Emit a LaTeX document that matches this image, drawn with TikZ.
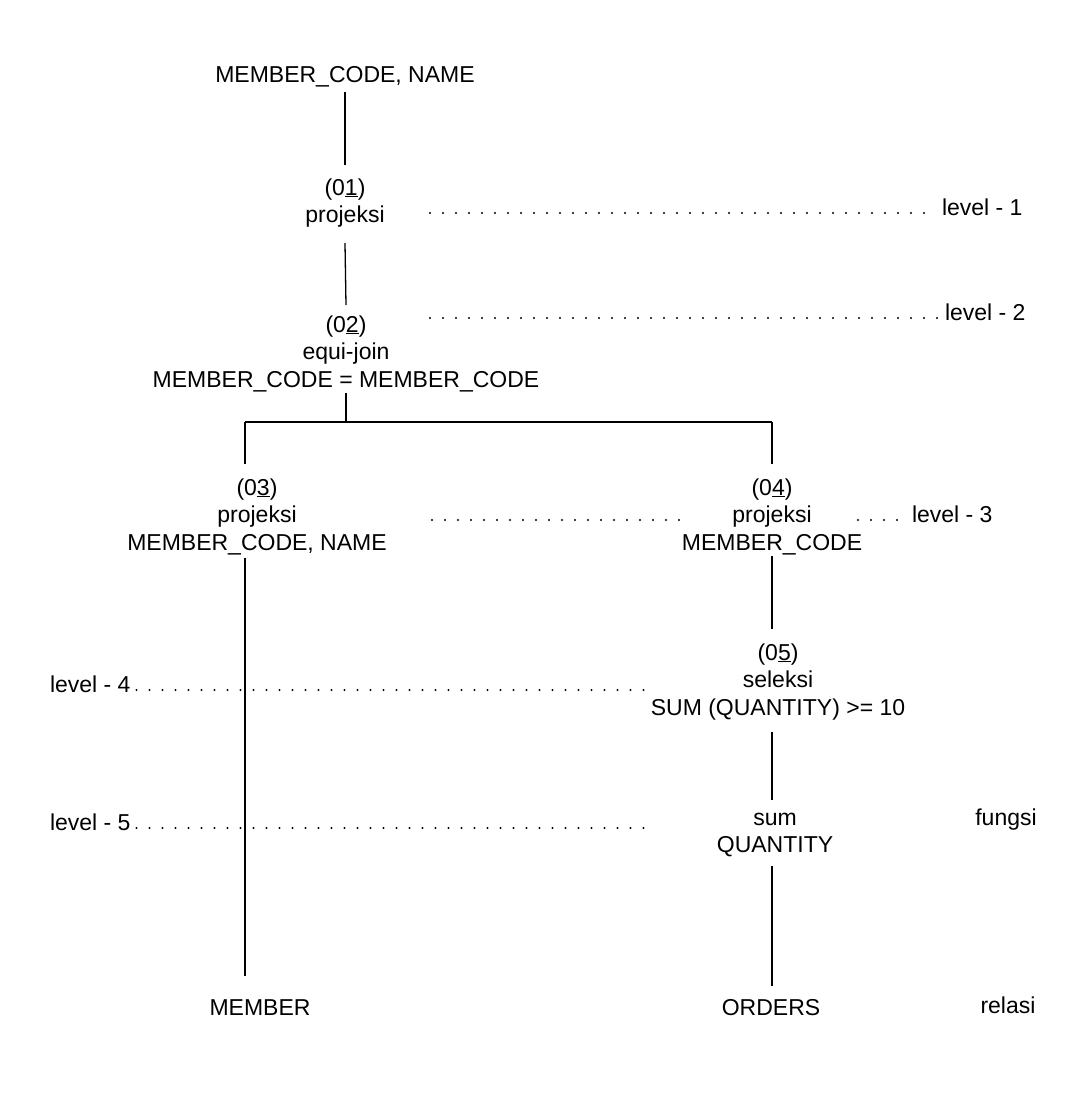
\documentclass[tikz,border=0pt]{standalone}
\usepackage{fontspec}
\setmainfont{Liberation Sans}
\newcommand\udl[1]{\underline{#1}}
\begin{document}
\begin{tikzpicture}[x=1pt,y=-1pt,
  every node/.style={inner sep=0pt, outer sep=0pt, font=\fontsize{23}{27.5}\selectfont},
  blk/.style={align=center, anchor=base},
  lab/.style={anchor=base},
  labw/.style={anchor=base west},
  ln/.style={line width=1.3pt},
  dots/.style={line width=2.2pt, line cap=round, dash pattern=on 0pt off 13pt}]
\useasboundingbox (0,0) rectangle (1088,1096);

% tree nodes (anchor = baseline of the last line)
\node[blk] (top) at (345,82) {MEMBER\_CODE, NAME};
\node[blk] (n01) at (345,222.5) {(0\udl{1})\\projeksi};
\node[blk] (n02) at (346,387) {(0\udl{2})\\equi-join\\MEMBER\_CODE = MEMBER\_CODE};
\node[blk] (n03) at (257,550) {(0\udl{3})\\projeksi\\MEMBER\_CODE, NAME};
\node[blk] (n04) at (772,550) {(0\udl{4})\\projeksi\\MEMBER\_CODE};
\node[blk] (n05) at (778,715) {(0\udl{5})\\seleksi\\SUM (QUANTITY) >= 10};
\node[blk] (nsum) at (775,852.5) {sum\\QUANTITY};
\node[lab] (member) at (260,1015) {MEMBER};
\node[lab] (orders) at (771,1015) {ORDERS};

% side labels
\node[lab] (fungsi) at (1006,825) {fungsi};
\node[lab] (relasi) at (1008,1013) {relasi};
\node[labw] (lvl1) at (942,215) {level - 1};
\node[labw] (lvl2) at (945,320) {level - 2};
\node[labw] (lvl3) at (912,522) {level - 3};
\node[labw] (lvl4) at (50,692) {level - 4};
\node[labw] (lvl5) at (50,830) {level - 5};

% junction coordinates
\coordinate (j) at (346,422);
\coordinate (jl) at (245,422);
\coordinate (jr) at (772,422);

% connectors
\draw[ln] ([yshift=-10pt]top.base) -- ([yshift=57.5pt]n01.base);
\draw[ln] ([yshift=-20.5pt]n01.base) -- ([yshift=82pt]n02.base);
\draw[ln] ([yshift=-6pt]n02.base) -- (j);
\draw[ln] (jl) -- (jr);
\draw[ln, shorten >=14pt] (jl) -- (jl |- n03.north);
\draw[ln, shorten >=14pt] (jr) -- (jr |- n04.north);
\draw[ln, shorten <=3pt, shorten >=23pt] (n03.south -| jl) -- (member.north -| jl);
\draw[ln, shorten <=1pt, shorten >=14pt] (n04.south) -- (n04.south |- n05.north);
\draw[ln, shorten <=12pt, shorten >=13pt] (n05.south -| n04.south) -- (n04.south |- nsum.north);
\draw[ln, shorten <=9pt, shorten >=13pt] (nsum.south -| n04.south) -- (n04.south |- orders.north);

% level leaders
\coordinate (d1) at (430,213);
\coordinate (d2) at (430,318);
\coordinate (d3a) at (432,520);
\coordinate (d3b) at (692,520);
\coordinate (d3c) at (858,520);
\coordinate (d4) at (655,690);
\coordinate (d5) at (655,828);
\draw[dots, shorten >=6pt] (d1) -- (d1 -| lvl1.west);
\draw[dots, shorten >=6pt] (d2) -- (d2 -| lvl2.west);
\draw[dots] (d3a) -- (d3b);
\draw[dots, shorten >=6pt] (d3c) -- (d3c -| lvl3.west);
\draw[dots, shorten <=6pt] (d4 -| lvl4.east) -- (d4);
\draw[dots, shorten <=6pt] (d5 -| lvl5.east) -- (d5);
\end{tikzpicture}
\end{document}
